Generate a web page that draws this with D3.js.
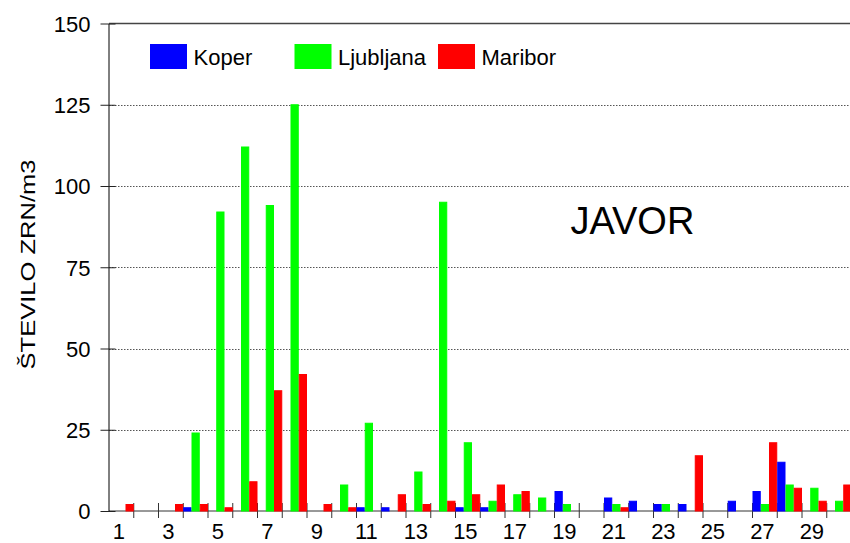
<!DOCTYPE html>
<html>
<head>
<meta charset="utf-8">
<script src="https://cdn.jsdelivr.net/npm/d3@7/dist/d3.min.js"></script>
<style>
  html, body { margin: 0; padding: 0; background: #fff; }
  svg { display: block; font-family: "Liberation Sans", Arial, sans-serif; }
</style>
</head>
<body>
<svg id="chart" width="850" height="543"></svg>
<script>
// Daily pollen counts (grains per m3) for maple, by station
const days = d3.range(1, 31);
const series = ["Koper", "Ljubljana", "Maribor"];
const koper     = [0,0,0,1,0,0,0,0,0,0, 1,1,0,0,1,1,0,0,6,0, 4,3,2,2,0,3,6,15,0,0];
const ljubljana = [0,0,0,24,92,112,94,125,0,8, 27,0,12,95,21,3,5,4,2,0, 2,0,2,0,0,0,2,8,7,3];
const maribor   = [2,0,2,2,1,9,37,42,2,1, 0,5,2,3,5,8,6,0,0,0, 1,0,0,17,0,0,21,7,3,8];
const yTicks = [0, 25, 50, 75, 100, 125, 150];
const xLabelDays = days.filter(d => d % 2 === 1);
const colors = ["#0000ff", "#00ff00", "#ff0000"];

const valuesBySeries = [koper, ljubljana, maribor];
const rows = days.map((d, i) => ({
  day: d,
  values: series.map((s, j) => ({ key: s, value: valuesBySeries[j][i] }))
}));

const svg = d3.select("#chart");
const plotLeft = 109, plotBottom = 511, plotTop = 23.5, step = 24.75;

const x = d3.scaleBand().domain(days).range([plotLeft, plotLeft + days.length * step]).padding(0);
const xInner = d3.scaleBand().domain(series).range([0, x.bandwidth()]).padding(0);
const y = d3.scaleLinear().domain([0, 150]).range([plotBottom, plotTop]);
const color = d3.scaleOrdinal().domain(series).range(colors);
const plotRight = x.range()[1];

// dotted gridlines
svg.append("g")
  .selectAll("line")
  .data(yTicks.filter(t => t > 0 && t < 150))
  .join("line")
  .attr("x1", plotLeft).attr("x2", plotRight)
  .attr("y1", d => Math.round(y(d)) + 0.5).attr("y2", d => Math.round(y(d)) + 0.5)
  .attr("stroke", "#555").attr("stroke-width", 1).attr("stroke-dasharray", "1.5,1.5");

// top frame line
svg.append("line")
  .attr("x1", plotLeft).attr("x2", plotRight)
  .attr("y1", y(150)).attr("y2", y(150))
  .attr("stroke", "#444").attr("stroke-width", 1.5);

// category tick marks crossing the base line
svg.append("g")
  .selectAll("line")
  .data(days.slice(1))
  .join("line")
  .attr("x1", d => x(d)).attr("x2", d => x(d))
  .attr("y1", plotBottom - 8).attr("y2", plotBottom + 7)
  .attr("stroke", "#333").attr("stroke-width", 1);

// base line
svg.append("line")
  .attr("x1", plotLeft).attr("x2", plotRight)
  .attr("y1", plotBottom).attr("y2", plotBottom)
  .attr("stroke", "#333").attr("stroke-width", 1);

// bars
svg.append("g")
  .selectAll("g")
  .data(rows)
  .join("g")
  .attr("transform", d => `translate(${x(d.day)},0)`)
  .selectAll("rect")
  .data(d => d.values)
  .join("rect")
  .attr("x", d => xInner(d.key) + 0.5)
  .attr("width", xInner.bandwidth() - 1)
  .attr("y", d => y(d.value))
  .attr("height", d => y(0) - y(d.value))
  .attr("fill", d => color(d.key))
  .attr("stroke", d => color(d.key))
  .attr("stroke-width", 1);

// y axis
const yAxis = d3.axisLeft(y).tickValues(yTicks).tickSize(0).tickPadding(0);
const gy = svg.append("g").attr("transform", `translate(${plotLeft - 0.5},0)`).call(yAxis);
gy.select(".domain").attr("stroke", "#000");
gy.selectAll(".tick text")
  .attr("x", -18).attr("dy", "0.36em")
  .attr("font-size", 22).attr("fill", "#000")
  .attr("font-family", "Liberation Sans, Arial, sans-serif");
gy.selectAll(".tick").append("line")
  .attr("x1", -8).attr("x2", 7)
  .attr("stroke", "#222").attr("stroke-width", 1);

// x axis labels (odd days)
svg.append("g")
  .selectAll("text")
  .data(xLabelDays)
  .join("text")
  .attr("x", d => x(d) + x.bandwidth() / 2 - 2.5)
  .attr("y", 538.5)
  .attr("text-anchor", "middle")
  .attr("font-size", 22)
  .attr("fill", "#000")
  .text(d => d);

// y axis title
svg.append("text")
  .attr("transform", "translate(35,264.5) rotate(-90)")
  .attr("text-anchor", "middle")
  .attr("font-size", 21)
  .attr("textLength", 210)
  .attr("lengthAdjust", "spacingAndGlyphs")
  .attr("fill", "#000")
  .text("ŠTEVILO ZRN/m3");

// species label
svg.append("text")
  .attr("x", 570.5).attr("y", 233.5)
  .attr("font-size", 38)
  .attr("fill", "#000")
  .text("JAVOR");

// legend
const legendX = [150, 294.5, 438];
const legend = svg.append("g")
  .selectAll("g")
  .data(series)
  .join("g")
  .attr("transform", (d, i) => `translate(${legendX[i]},44)`);
legend.append("rect")
  .attr("width", 37).attr("height", 25)
  .attr("fill", d => color(d));
legend.append("text")
  .attr("x", 43.5).attr("y", 20.5)
  .attr("font-size", 22)
  .attr("fill", "#000")
  .text(d => d);
</script>
</body>
</html>
